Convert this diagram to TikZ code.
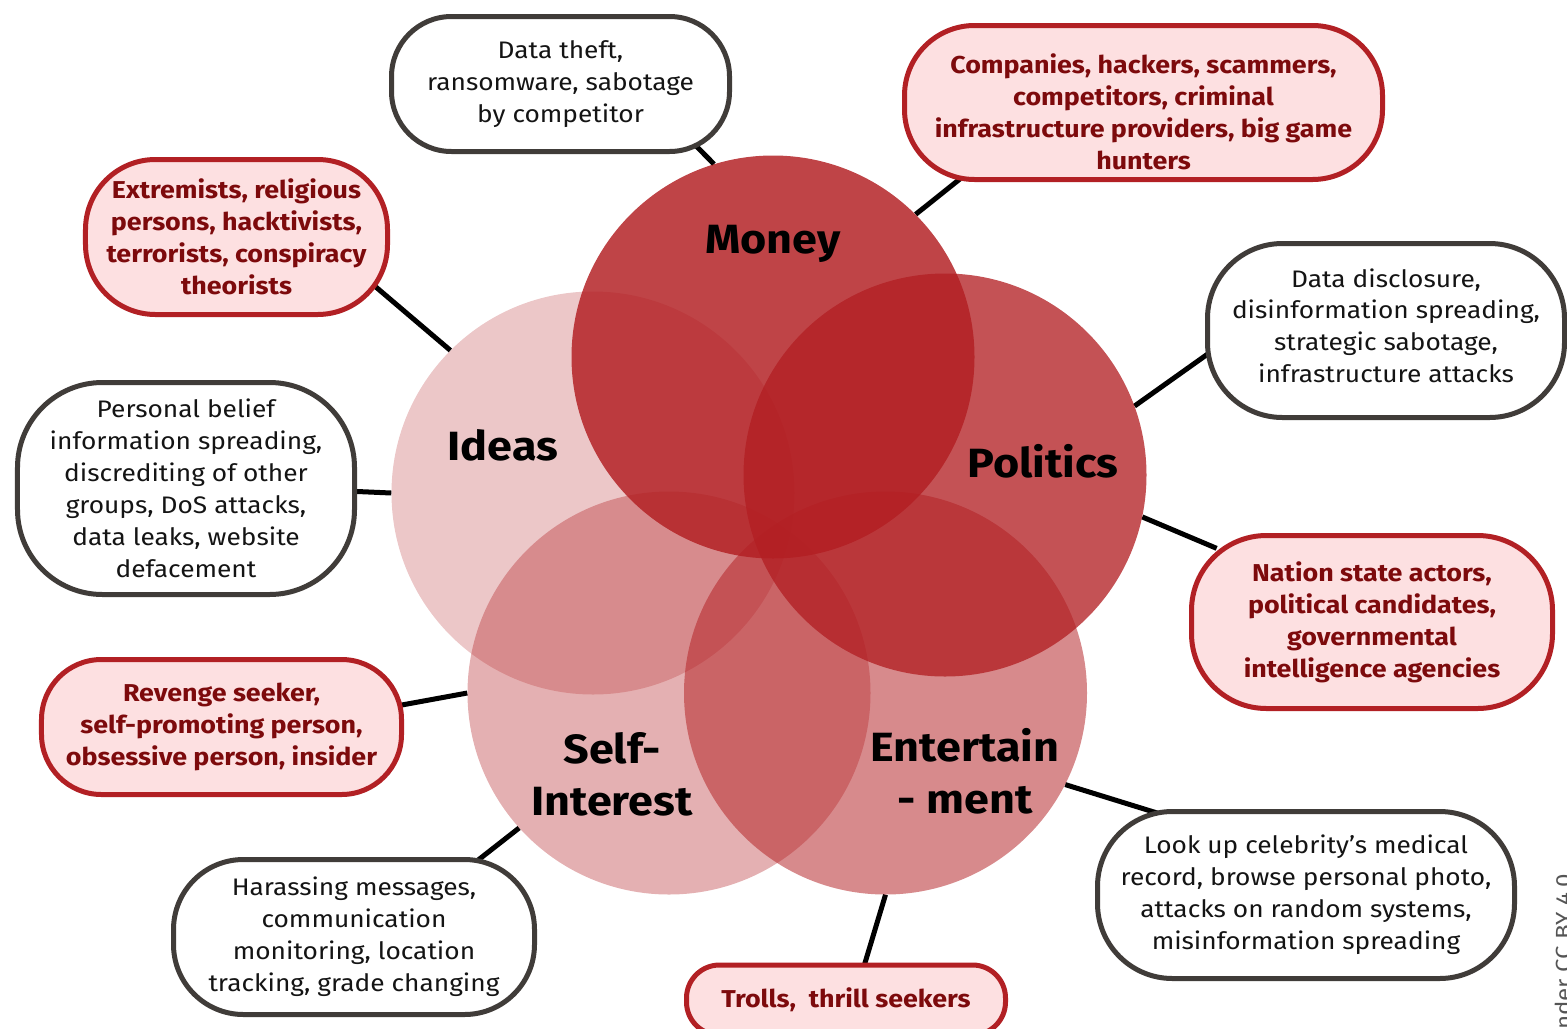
\documentclass[tikz,border=0pt]{standalone}
\usepackage{fontspec}
\setmainfont{Fira Sans}[FakeStretch=1.1]
\usetikzlibrary{backgrounds}
\definecolor{basered}{HTML}{B21E22}
\definecolor{boxred}{HTML}{B22024}
\definecolor{boxfill}{HTML}{FDE0E1}
\definecolor{redtext}{HTML}{7D0A0C}
\definecolor{graybrd}{HTML}{403C39}
\definecolor{lictext}{HTML}{555555}
\begin{document}
\begin{tikzpicture}[x=1bp,y=-1bp,
  venn/.style={circle, minimum size=403bp, inner sep=0pt, fill=basered},
  boxbase/.style={line width=5bp, align=center, inner sep=0pt, rounded corners=#1},
  blackbox/.style={boxbase=#1, draw=graybrd, fill=white, text=black!92, font=\fontsize{24}{32}\selectfont},
  redbox/.style={boxbase=#1, draw=boxred, fill=boxfill, text=redtext, font=\bfseries\fontsize{24.5}{32}\selectfont},
  conn/.style={line width=5bp, black, shorten >=-30bp},
  vlabel/.style={font=\bfseries\fontsize{41}{52}\selectfont, align=center, inner sep=0pt, text=black}
]
\useasboundingbox (0,0) rectangle (1567,1028);
\clip (0,0) rectangle (1567,1028);

% circles
\node[venn, fill opacity=0.25] (ideas) at (593,493) {};
\node[venn, fill opacity=0.35] (self) at (669,693) {};
\node[venn, fill opacity=0.52] (ent) at (885.5,693) {};
\node[venn, fill opacity=0.83] (money) at (773,357) {};
\node[venn, fill opacity=0.77] (politics) at (945,475) {};

% circle labels
\node[vlabel, anchor=base] (lmoney) at (773,253) {Money};
\node[vlabel, anchor=base] (lideas) at (503,460) {Ideas};
\node[vlabel, anchor=base] (lpol) at (1043,477) {Politics};
\node[vlabel] (lself) at (612,774) {Self-\\Interest};
\node[vlabel] (lent) at (965,771) {Entertain\\- ment};

% boxes
\node[blackbox=60bp, minimum width=338bp, minimum height=135bp] (b1) at (560.5,84)
  {Data theft,\\ransomware, sabotage\\by competitor};
\node[redbox=70bp, minimum width=478bp, minimum height=154bp] (b2) at (1143.5,102.5)
  {\rule{0pt}{38bp}Companies, hackers, scammers,\\competitors, criminal\\infrastructure providers, big game\\hunters};
\node[redbox=70bp, minimum width=302bp, minimum height=155bp] (b3) at (236.5,237)
  {Extremists, religious\\persons, hacktivists,\\terrorists, conspiracy\\theorists};
\node[blackbox=75bp, minimum width=357bp, minimum height=174bp] (b4) at (1386,330.5)
  {Data disclosure,\\disinformation spreading,\\strategic sabotage,\\infrastructure attacks\rule[-10bp]{0pt}{1bp}};
\node[blackbox=85bp, minimum width=337bp, minimum height=212bp] (b5) at (186,488.5)
  {Personal belief\\information spreading,\\discrediting of other\\groups, DoS attacks,\\data leaks, website\\defacement};
\node[redbox=75bp, minimum width=361bp, minimum height=173bp] (b6) at (1372,622)
  {Nation state actors,\\political candidates,\\governmental\\intelligence agencies};
\node[redbox=60bp, minimum width=360bp, minimum height=135bp] (b7) at (221.5,727)
  {Revenge seeker,\\self-promoting person,\\obsessive person, insider};
\node[blackbox=75bp, minimum width=417bp, minimum height=167bp] (b8) at (1306,895)
  {Look up celebrity’s medical\\record, browse personal photo,\\attacks on random systems,\\misinformation spreading};
\node[blackbox=70bp, minimum width=361bp, minimum height=155bp] (b9) at (354,937)
  {Harassing messages,\\communication\\monitoring, location\\tracking, grade changing};
\node[redbox=33bp, minimum width=319bp, minimum height=70bp] (b10) at (846,1000)
  {Trolls,\ \ thrill seekers};

% licence text
\node[rotate=90, anchor=base west, inner sep=0pt, text=lictext, font=\fontsize{22}{26}\selectfont] (lic) at (1571,1030) {nder CC BY 4.0};

% connectors
\begin{pgfonlayer}{background}
\draw[conn] (money.107.8) -- (b1.-26);
\draw[conn] (money.45) -- (b2.203.7);
\draw[conn] (ideas.135.2) -- (b3.-22.5);
\draw[conn] (politics.20) -- (b4.188.4);
\draw[conn] (ideas.180) -- (b5.-1.5);
\draw[conn] (politics.-12.9) -- (b6.155.2);
\draw[conn] (self.180.3) -- (b7.7.9);
\draw[conn] (ent.-27.3) -- (b8.152.9);
\draw[conn] (self.222.4) -- (b9.32.3);
\draw[conn] (ent.-90) -- (b10.63.7);
\end{pgfonlayer}
\end{tikzpicture}
\end{document}
